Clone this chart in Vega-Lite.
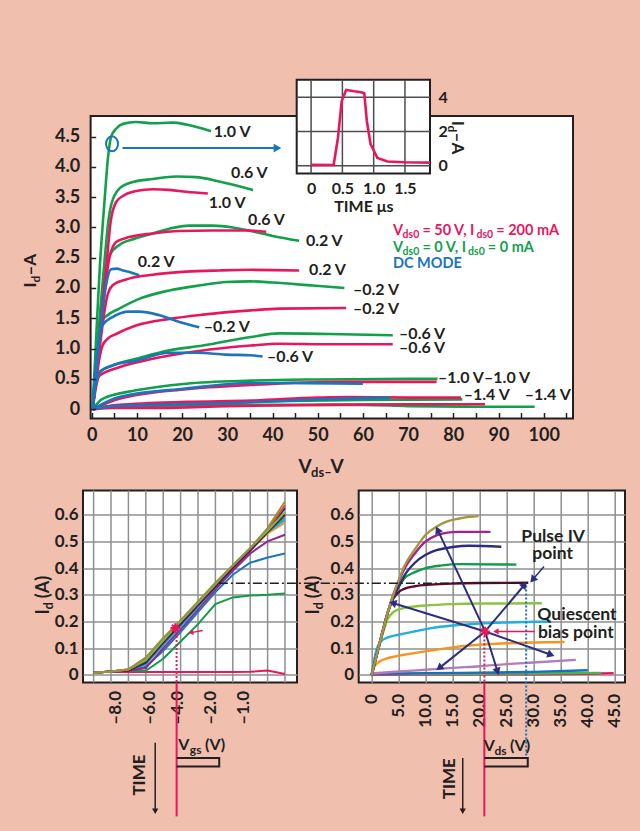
{
"$schema": "https://vega.github.io/schema/vega-lite/v6.json",
"background": "#f0bfae",
"padding": {"left": 21, "top": 78, "right": 15, "bottom": 15},
"bounds": "flush",
"spacing": 71.5,
"resolve": {"scale": {"color": "independent"}},
"config": {
 "font": "Lato",
 "view": {"stroke": null},
 "axis": {"labelFont": "Lato", "labelFontWeight": "bold", "labelColor": "#231f20", "titleFont": "Lato", "titleFontWeight": "bold", "titleColor": "#231f20", "tickColor": "#231f20", "domainColor": "#231f20", "labelOverlap": false, "labelFlush": false},
 "text": {"font": "Lato", "fontWeight": "bold", "color": "#231f20"}
},
"vconcat": [
{
 "width": 490, "height": 302.5,
 "view": {"stroke": null, "fill": null},
 "resolve": {"scale": {"x": "independent", "y": "independent"}},
 "layer": [
 {
  "encoding": {
   "x": {"field": "X", "type": "quantitative", "scale": {"domain": [-1.925, 106.48], "nice": false, "zero": false},
         "axis": {"orient": "bottom", "values": [0,5,10,15,20,25,30,35,40,45,50,55,60,65,70,75,80,85,90,95,100,105], "labelExpr": "datum.value % 10 == 0 ? format(datum.value, 'd') : ''", "domain": false, "grid": false, "tickSize": -6, "tickWidth": 1.5, "labelPadding": 14, "labelFontSize": 18, "title": null, "zindex": 1}},
   "y": {"field": "Y", "type": "quantitative", "scale": {"domain": [-0.155, 4.84], "nice": false, "zero": false},
         "axis": {"orient": "left", "offset": -7.7, "values": [0,0.5,1,1.5,2,2.5,3,3.5,4,4.5], "labelExpr": "datum.value == 0 ? '0' : format(datum.value, '.1f')", "domain": false, "grid": false, "tickSize": -5, "tickWidth": 1.5, "labelPadding": 16, "labelFontSize": 18, "title": null, "zindex": 1}}
  },
  "layer": [
   {"data": {"values": [{"X":-0.24,"X2":106.48,"Y":-0.155,"Y2":4.84}]}, "mark": {"type": "rect", "fill": "white", "stroke": "#231f20", "strokeWidth": 2},
    "encoding": {"x2": {"field": "X2"}, "y2": {"field": "Y2"}}},
   {"data": {"values": [
{"id":"g10","m":"g","X":0.2,"Y":0},{"id":"g10","m":"g","X":1.0,"Y":1.2},{"id":"g10","m":"g","X":1.8,"Y":2.35},{"id":"g10","m":"g","X":2.8,"Y":3.4},{"id":"g10","m":"g","X":3.6,"Y":4.15},{"id":"g10","m":"g","X":4.3,"Y":4.5},{"id":"g10","m":"g","X":5.4,"Y":4.63},{"id":"g10","m":"g","X":6.9,"Y":4.71},{"id":"g10","m":"g","X":9.8,"Y":4.74},{"id":"g10","m":"g","X":13.5,"Y":4.72},{"id":"g10","m":"g","X":17.9,"Y":4.73},{"id":"g10","m":"g","X":20.9,"Y":4.7},{"id":"g10","m":"g","X":26.4,"Y":4.59},
{"id":"g06","m":"g","X":0.2,"Y":0},{"id":"g06","m":"g","X":1.2,"Y":1.0},{"id":"g06","m":"g","X":2.2,"Y":1.9},{"id":"g06","m":"g","X":2.9,"Y":2.5},{"id":"g06","m":"g","X":3.6,"Y":3.05},{"id":"g06","m":"g","X":4.3,"Y":3.37},{"id":"g06","m":"g","X":6.1,"Y":3.64},{"id":"g06","m":"g","X":9.1,"Y":3.75},{"id":"g06","m":"g","X":13.5,"Y":3.8},{"id":"g06","m":"g","X":18.7,"Y":3.84},{"id":"g06","m":"g","X":23.1,"Y":3.83},{"id":"g06","m":"g","X":28.2,"Y":3.76},{"id":"g06","m":"g","X":35.7,"Y":3.62},
{"id":"g02","m":"g","X":0.2,"Y":0},{"id":"g02","m":"g","X":1.3,"Y":1.0},{"id":"g02","m":"g","X":2.4,"Y":1.9},{"id":"g02","m":"g","X":3.3,"Y":2.35},{"id":"g02","m":"g","X":3.9,"Y":2.54},{"id":"g02","m":"g","X":6.1,"Y":2.71},{"id":"g02","m":"g","X":9.8,"Y":2.82},{"id":"g02","m":"g","X":13.5,"Y":2.9},{"id":"g02","m":"g","X":17.2,"Y":2.98},{"id":"g02","m":"g","X":21.6,"Y":3.03},{"id":"g02","m":"g","X":26.8,"Y":3.03},{"id":"g02","m":"g","X":31.2,"Y":3.0},{"id":"g02","m":"g","X":35.2,"Y":2.94},{"id":"g02","m":"g","X":40,"Y":2.86},{"id":"g02","m":"g","X":45.9,"Y":2.78},
{"id":"gm02","m":"g","X":0.2,"Y":0},{"id":"gm02","m":"g","X":1.0,"Y":0.8},{"id":"gm02","m":"g","X":1.7,"Y":1.25},{"id":"gm02","m":"g","X":2.1,"Y":1.44},{"id":"gm02","m":"g","X":3.5,"Y":1.55},{"id":"gm02","m":"g","X":6.1,"Y":1.66},{"id":"gm02","m":"g","X":10.5,"Y":1.82},{"id":"gm02","m":"g","X":17.2,"Y":1.96},{"id":"gm02","m":"g","X":24.6,"Y":2.05},{"id":"gm02","m":"g","X":29.7,"Y":2.1},{"id":"gm02","m":"g","X":35.2,"Y":2.11},{"id":"gm02","m":"g","X":40,"Y":2.09},{"id":"gm02","m":"g","X":48.9,"Y":2.04},{"id":"gm02","m":"g","X":55.9,"Y":2.0},
{"id":"gm06","m":"g","X":0.2,"Y":0},{"id":"gm06","m":"g","X":0.8,"Y":0.35},{"id":"gm06","m":"g","X":1.7,"Y":0.61},{"id":"gm06","m":"g","X":4.6,"Y":0.72},{"id":"gm06","m":"g","X":9.8,"Y":0.83},{"id":"gm06","m":"g","X":17.2,"Y":0.97},{"id":"gm06","m":"g","X":24.6,"Y":1.05},{"id":"gm06","m":"g","X":35.2,"Y":1.19},{"id":"gm06","m":"g","X":41.5,"Y":1.25},{"id":"gm06","m":"g","X":52.6,"Y":1.24},{"id":"gm06","m":"g","X":66.6,"Y":1.22},
{"id":"gm10","m":"g","X":0.2,"Y":0},{"id":"gm10","m":"g","X":2.4,"Y":0.17},{"id":"gm10","m":"g","X":9.8,"Y":0.31},{"id":"gm10","m":"g","X":20.9,"Y":0.42},{"id":"gm10","m":"g","X":35.2,"Y":0.47},{"id":"gm10","m":"g","X":50,"Y":0.49},{"id":"gm10","m":"g","X":70.6,"Y":0.5},{"id":"gm10","m":"g","X":76.5,"Y":0.5},
{"id":"gm14","m":"g","X":0.2,"Y":0},{"id":"gm14","m":"g","X":5,"Y":0.06},{"id":"gm14","m":"g","X":20,"Y":0.1},{"id":"gm14","m":"g","X":40,"Y":0.13},{"id":"gm14","m":"g","X":60,"Y":0.15},{"id":"gm14","m":"g","X":82,"Y":0.16},
{"id":"gm18","m":"g","X":0.2,"Y":0},{"id":"gm18","m":"g","X":5,"Y":0.05},{"id":"gm18","m":"g","X":20,"Y":0.06},{"id":"gm18","m":"g","X":40,"Y":0.07},{"id":"gm18","m":"g","X":60,"Y":0.07},{"id":"gm18","m":"g","X":70,"Y":0.05},{"id":"gm18","m":"g","X":85,"Y":0.04},{"id":"gm18","m":"g","X":98,"Y":0.04},
{"id":"p10","m":"p","X":0.2,"Y":0},{"id":"p10","m":"p","X":1.5,"Y":1.0},{"id":"p10","m":"p","X":2.6,"Y":1.9},{"id":"p10","m":"p","X":3.4,"Y":2.5},{"id":"p10","m":"p","X":4.2,"Y":3.1},{"id":"p10","m":"p","X":5.4,"Y":3.42},{"id":"p10","m":"p","X":6.9,"Y":3.52},{"id":"p10","m":"p","X":9.8,"Y":3.6},{"id":"p10","m":"p","X":13.5,"Y":3.63},{"id":"p10","m":"p","X":17.2,"Y":3.62},{"id":"p10","m":"p","X":20.9,"Y":3.59},{"id":"p10","m":"p","X":25.7,"Y":3.56},
{"id":"p06","m":"p","X":0.2,"Y":0},{"id":"p06","m":"p","X":1.6,"Y":1.0},{"id":"p06","m":"p","X":2.8,"Y":1.9},{"id":"p06","m":"p","X":3.8,"Y":2.45},{"id":"p06","m":"p","X":5.4,"Y":2.76},{"id":"p06","m":"p","X":8.3,"Y":2.84},{"id":"p06","m":"p","X":13.5,"Y":2.9},{"id":"p06","m":"p","X":19.4,"Y":2.94},{"id":"p06","m":"p","X":26.8,"Y":2.95},{"id":"p06","m":"p","X":34.1,"Y":2.95},{"id":"p06","m":"p","X":38.6,"Y":2.93},
{"id":"p02","m":"p","X":0.2,"Y":0},{"id":"p02","m":"p","X":1.6,"Y":0.9},{"id":"p02","m":"p","X":2.6,"Y":1.5},{"id":"p02","m":"p","X":3.4,"Y":1.85},{"id":"p02","m":"p","X":4.6,"Y":2.04},{"id":"p02","m":"p","X":7.6,"Y":2.14},{"id":"p02","m":"p","X":13.5,"Y":2.22},{"id":"p02","m":"p","X":20.9,"Y":2.27},{"id":"p02","m":"p","X":28.2,"Y":2.29},{"id":"p02","m":"p","X":35.2,"Y":2.3},{"id":"p02","m":"p","X":45.9,"Y":2.29},
{"id":"pm02","m":"p","X":0.2,"Y":0},{"id":"pm02","m":"p","X":1.2,"Y":0.6},{"id":"pm02","m":"p","X":2.0,"Y":0.95},{"id":"pm02","m":"p","X":2.4,"Y":1.05},{"id":"pm02","m":"p","X":3.5,"Y":1.16},{"id":"pm02","m":"p","X":5.4,"Y":1.24},{"id":"pm02","m":"p","X":9.8,"Y":1.38},{"id":"pm02","m":"p","X":17.2,"Y":1.49},{"id":"pm02","m":"p","X":24.6,"Y":1.56},{"id":"pm02","m":"p","X":35.2,"Y":1.63},{"id":"pm02","m":"p","X":41.5,"Y":1.66},{"id":"pm02","m":"p","X":56.3,"Y":1.67},
{"id":"pm06","m":"p","X":0.2,"Y":0},{"id":"pm06","m":"p","X":0.8,"Y":0.3},{"id":"pm06","m":"p","X":1.7,"Y":0.55},{"id":"pm06","m":"p","X":6.1,"Y":0.69},{"id":"pm06","m":"p","X":13.5,"Y":0.83},{"id":"pm06","m":"p","X":20.9,"Y":0.93},{"id":"pm06","m":"p","X":28.2,"Y":1.0},{"id":"pm06","m":"p","X":35.2,"Y":1.05},{"id":"pm06","m":"p","X":41.5,"Y":1.08},{"id":"pm06","m":"p","X":52.6,"Y":1.07},{"id":"pm06","m":"p","X":66.6,"Y":1.07},
{"id":"pm10","m":"p","X":0.2,"Y":0},{"id":"pm10","m":"p","X":6.1,"Y":0.17},{"id":"pm10","m":"p","X":20.9,"Y":0.33},{"id":"pm10","m":"p","X":35.2,"Y":0.4},{"id":"pm10","m":"p","X":56.3,"Y":0.45},{"id":"pm10","m":"p","X":76.3,"Y":0.45},
{"id":"pm14","m":"p","X":0.2,"Y":0},{"id":"pm14","m":"p","X":6.1,"Y":0.07},{"id":"pm14","m":"p","X":20.9,"Y":0.12},{"id":"pm14","m":"p","X":35.2,"Y":0.14},{"id":"pm14","m":"p","X":50,"Y":0.19},{"id":"pm14","m":"p","X":56.3,"Y":0.2},{"id":"pm14","m":"p","X":70.6,"Y":0.19},{"id":"pm14","m":"p","X":81.7,"Y":0.19},
{"id":"pm18","m":"p","X":0.2,"Y":0},{"id":"pm18","m":"p","X":5,"Y":0.02},{"id":"pm18","m":"p","X":15,"Y":0.02},{"id":"pm18","m":"p","X":30,"Y":0.05},{"id":"pm18","m":"p","X":50,"Y":0.07},{"id":"pm18","m":"p","X":70,"Y":0.08},{"id":"pm18","m":"p","X":87,"Y":0.08},
{"id":"b02","m":"b","X":0.2,"Y":0},{"id":"b02","m":"b","X":1.5,"Y":1.0},{"id":"b02","m":"b","X":2.5,"Y":1.7},{"id":"b02","m":"b","X":3.3,"Y":2.1},{"id":"b02","m":"b","X":4.3,"Y":2.31},{"id":"b02","m":"b","X":5.5,"Y":2.32},{"id":"b02","m":"b","X":6.9,"Y":2.29},{"id":"b02","m":"b","X":8.5,"Y":2.26},{"id":"b02","m":"b","X":10.5,"Y":2.21},
{"id":"bm02","m":"b","X":0.2,"Y":0},{"id":"bm02","m":"b","X":1.0,"Y":0.8},{"id":"bm02","m":"b","X":1.7,"Y":1.2},{"id":"bm02","m":"b","X":2.3,"Y":1.38},{"id":"bm02","m":"b","X":4.6,"Y":1.52},{"id":"bm02","m":"b","X":8.3,"Y":1.61},{"id":"bm02","m":"b","X":10.5,"Y":1.61},{"id":"bm02","m":"b","X":15,"Y":1.55},{"id":"bm02","m":"b","X":19.4,"Y":1.44},{"id":"bm02","m":"b","X":23.8,"Y":1.35},
{"id":"bm06","m":"b","X":0.2,"Y":0},{"id":"bm06","m":"b","X":0.8,"Y":0.35},{"id":"bm06","m":"b","X":1.7,"Y":0.6},{"id":"bm06","m":"b","X":4.6,"Y":0.72},{"id":"bm06","m":"b","X":9.8,"Y":0.8},{"id":"bm06","m":"b","X":17.2,"Y":0.93},{"id":"bm06","m":"b","X":23.1,"Y":0.93},{"id":"bm06","m":"b","X":29.7,"Y":0.9},{"id":"bm06","m":"b","X":35.2,"Y":0.89},{"id":"bm06","m":"b","X":37.8,"Y":0.87},
{"id":"bm10","m":"b","X":0.2,"Y":0},{"id":"bm10","m":"b","X":6.1,"Y":0.2},{"id":"bm10","m":"b","X":20.9,"Y":0.34},{"id":"bm10","m":"b","X":35.2,"Y":0.43},{"id":"bm10","m":"b","X":45,"Y":0.43},{"id":"bm10","m":"b","X":60,"Y":0.42},
{"id":"bm14","m":"b","X":0.2,"Y":0},{"id":"bm14","m":"b","X":5,"Y":0.05},{"id":"bm14","m":"b","X":20,"Y":0.08},{"id":"bm14","m":"b","X":35,"Y":0.11},{"id":"bm14","m":"b","X":50,"Y":0.16},{"id":"bm14","m":"b","X":66,"Y":0.19}
    ]},
    "mark": {"type": "line", "strokeWidth": 2.6, "interpolate": "monotone"},
    "encoding": {"color": {"field": "m", "type": "nominal", "scale": {"domain": ["g","p","b"], "range": ["#12a04b","#e8175d","#1c75bc"]}, "legend": null}, "detail": {"field": "id"}}},
   {"data": {"values": [
{"X":27.0,"Y":4.58,"t":"1.0 V"},{"X":30.8,"Y":3.9,"t":"0.6 V"},{"X":25.9,"Y":3.41,"t":"1.0 V"},{"X":34.6,"Y":3.13,"t":"0.6 V"},{"X":47.4,"Y":2.78,"t":"0.2 V"},{"X":10.2,"Y":2.43,"t":"0.2 V"},{"X":48.1,"Y":2.29,"t":"0.2 V"},{"X":57.8,"Y":1.96,"t":"–0.2 V"},{"X":57.8,"Y":1.66,"t":"–0.2 V"},{"X":24.8,"Y":1.35,"t":"–0.2 V"},{"X":68.0,"Y":1.235,"t":"–0.6 V"},{"X":68.0,"Y":1.01,"t":"–0.6 V"},{"X":38.8,"Y":0.86,"t":"–0.6 V"},{"X":76.6,"Y":0.52,"t":"–1.0 V"},{"X":86.8,"Y":0.52,"t":"–1.0 V"},{"X":82.3,"Y":0.225,"t":"–1.4 V"},{"X":95.8,"Y":0.225,"t":"–1.4 V"}
    ]},
    "mark": {"type": "text", "align": "left", "baseline": "middle", "fontSize": 16},
    "encoding": {"text": {"field": "t"}}},
   {"data": {"values": [
{"X":66.64,"Y":2.883,"t":"V","m":"p"},{"X":73.16,"Y":2.883,"t":" = 50 V, I","m":"p"},{"X":89.5,"Y":2.883,"t":" = 200 mA","m":"p"},
{"X":66.64,"Y":2.602,"t":"V","m":"g"},{"X":73.16,"Y":2.602,"t":" = 0 V, I","m":"g"},{"X":87.64,"Y":2.602,"t":" = 0 mA","m":"g"},
{"X":66.64,"Y":2.338,"t":"DC MODE","m":"b"}
    ]},
    "mark": {"type": "text", "align": "left", "baseline": "alphabetic", "fontSize": 14.5},
    "encoding": {"text": {"field": "t"}, "color": {"field": "m", "type": "nominal", "scale": {"domain": ["g","p","b"], "range": ["#12a04b","#e8175d","#1c75bc"]}, "legend": null}}},
   {"data": {"values": [
{"X":68.78,"Y":2.883,"t":"ds0","m":"p"},{"X":85.12,"Y":2.883,"t":"ds0","m":"p"},
{"X":68.78,"Y":2.602,"t":"ds0","m":"g"},{"X":83.27,"Y":2.602,"t":"ds0","m":"g"}
    ]},
    "mark": {"type": "text", "align": "left", "baseline": "alphabetic", "fontSize": 10.5, "dy": 3.5},
    "encoding": {"text": {"field": "t"}, "color": {"field": "m", "type": "nominal", "scale": {"domain": ["g","p","b"], "range": ["#12a04b","#e8175d","#1c75bc"]}, "legend": null}}},
   {"data": {"values": [{"X":45.73,"Y":-1.06,"t":"V"},{"X":52.85,"Y":-1.06,"t":"V"}]},
    "mark": {"type": "text", "align": "left", "baseline": "alphabetic", "fontSize": 19},
    "encoding": {"text": {"field": "t"}}},
   {"data": {"values": [{"X":48.54,"Y":-1.06,"t":"ds–"}]},
    "mark": {"type": "text", "align": "left", "baseline": "alphabetic", "fontSize": 13, "dy": 4},
    "encoding": {"text": {"field": "t"}}},
   {"data": {"values": [{"X":-12.35,"Y":2.008,"t":"I"},{"X":-12.35,"Y":2.205,"t":"–A"}]},
    "mark": {"type": "text", "align": "left", "baseline": "alphabetic", "fontSize": 17, "angle": 270},
    "encoding": {"text": {"field": "t"}}},
   {"data": {"values": [{"X":-12.35,"Y":2.089,"t":"d"}]},
    "mark": {"type": "text", "align": "left", "baseline": "alphabetic", "fontSize": 12, "angle": 270, "dy": 4},
    "encoding": {"text": {"field": "t"}}},
   {"data": {"values": [{"X":4.5,"Y":4.38}]},
    "mark": {"type": "point", "shape": "M0,-1A0.8,1 0 1,1 0,1A0.8,1 0 1,1 0,-1Z", "size": 225, "filled": false, "stroke": "#1c75bc", "strokeWidth": 2, "opacity": 1}},
   {"data": {"values": [{"X":6.8,"X2":40.5,"Y":4.31}]},
    "mark": {"type": "rule", "stroke": "#1c75bc", "strokeWidth": 2},
    "encoding": {"x2": {"field": "X2"}}},
   {"data": {"values": [{"X":41.1,"Y":4.31}]},
    "mark": {"type": "point", "shape": "triangle-right", "size": 80, "filled": true, "color": "#1c75bc", "opacity": 1}}
  ]
 },
 {
  "encoding": {
   "x": {"field": "T", "type": "quantitative", "scale": {"domain": [-0.23, 1.9], "range": [213.7, 347], "nice": false, "zero": false},
         "axis": {"orient": "bottom", "offset": -245.1, "values": [0,0.5,1,1.5], "labelExpr": "datum.value == 0 ? '0' : format(datum.value, '.1f')", "domain": false, "ticks": false, "grid": false, "labelPadding": 7, "labelFontSize": 16, "title": "TIME μs", "titleFontSize": 16, "titlePadding": 2, "zindex": 1}},
   "y": {"field": "I", "type": "quantitative", "scale": {"domain": [-0.45, 5.03], "range": [57.4, -36.3], "nice": false, "zero": false},
         "axis": {"orient": "right", "offset": -143, "values": [0,2,4], "domain": false, "ticks": false, "grid": false, "labelPadding": 8, "labelFontSize": 16, "title": null, "zindex": 1}}
  },
  "layer": [
   {"data": {"values": [{"T":-0.23,"T2":1.9,"I":-0.45,"I2":5.03}]}, "mark": {"type": "rect", "fill": "white", "stroke": "#231f20", "strokeWidth": 2},
    "encoding": {"x2": {"field": "T2"}, "y2": {"field": "I2"}}},
   {"data": {"values": [{"T":0,"I":-0.45,"I2":5.03},{"T":0.5,"I":-0.45,"I2":5.03},{"T":1,"I":-0.45,"I2":5.03},{"T":1.5,"I":-0.45,"I2":5.03}]}, "mark": {"type": "rule", "stroke": "#4d4d4d", "strokeWidth": 1.5},
    "encoding": {"y2": {"field": "I2"}}},
   {"data": {"values": [{"T":-0.23,"T2":1.9,"I":0},{"T":-0.23,"T2":1.9,"I":2},{"T":-0.23,"T2":1.9,"I":4}]}, "mark": {"type": "rule", "stroke": "#4d4d4d", "strokeWidth": 1.5},
    "encoding": {"x2": {"field": "T2"}}},
   {"data": {"values": [
{"T":0,"I":0.05},{"T":0.36,"I":0.04},{"T":0.43,"I":1.65},{"T":0.49,"I":3.8},{"T":0.56,"I":4.43},{"T":0.69,"I":4.35},{"T":0.8,"I":4.3},{"T":0.85,"I":4.24},{"T":0.89,"I":2.63},{"T":0.95,"I":1.27},{"T":1.06,"I":0.45},{"T":1.22,"I":0.25},{"T":1.5,"I":0.2},{"T":1.9,"I":0.18}
    ]}, "mark": {"type": "line", "stroke": "#e8175d", "strokeWidth": 2.6}},
   {"data": {"values": [{"T":2.247,"I":2.635,"t":"I"},{"T":2.247,"I":1.938,"t":"–A"}]},
    "mark": {"type": "text", "align": "left", "baseline": "alphabetic", "fontSize": 17, "angle": 90},
    "encoding": {"text": {"field": "t"}}},
   {"data": {"values": [{"T":2.247,"I":2.348,"t":"d"}]},
    "mark": {"type": "text", "align": "left", "baseline": "alphabetic", "fontSize": 12, "angle": 90, "dy": 4},
    "encoding": {"text": {"field": "t"}}}
  ]
 }
 ]
},
{
 "resolve": {"scale": {"color": "independent"}},
 "spacing": 61.7,
 "bounds": "flush",
 "hconcat": [
 {
  "width": 214, "height": 192,
  "view": {"stroke": "#231f20", "strokeWidth": 2, "fill": "white"},
  "encoding": {
   "x": {"field": "X", "type": "quantitative", "scale": {"domain": [-0.61, 11.69], "nice": false, "zero": false},
         "axis": {"values": [1.25,3.24,4.8,6.74,8.62], "labelExpr": "datum.value < 2 ? '–8.0' : datum.value < 4 ? '–6.0' : datum.value < 5.5 ? '–4.0' : datum.value < 7.5 ? '–2.0' : '–1.0'", "labelAngle": 270, "labelFontSize": 17, "labelPadding": 8, "ticks": false, "domain": false, "grid": false, "title": null}},
   "y": {"field": "Y", "type": "quantitative", "scale": {"domain": [-0.029, 0.691], "nice": false, "zero": false},
         "axis": {"values": [0,0.1,0.2,0.3,0.4,0.5,0.6], "labelExpr": "datum.value == 0 ? '0' : format(datum.value, '.1f')", "grid": true, "gridColor": "#8f8f8f", "gridWidth": 1.5, "ticks": false, "domain": false, "labelPadding": 5, "labelFontSize": 17, "title": null}}
  },
  "layer": [
   {"data": {"values": [{"X":0,"Y":-0.029,"Y2":0.691},{"X":1,"Y":-0.029,"Y2":0.691},{"X":2,"Y":-0.029,"Y2":0.691},{"X":3,"Y":-0.029,"Y2":0.691},{"X":4,"Y":-0.029,"Y2":0.691},{"X":5,"Y":-0.029,"Y2":0.691},{"X":6,"Y":-0.029,"Y2":0.691},{"X":7,"Y":-0.029,"Y2":0.691},{"X":8,"Y":-0.029,"Y2":0.691},{"X":9,"Y":-0.029,"Y2":0.691},{"X":10,"Y":-0.029,"Y2":0.691},{"X":11,"Y":-0.029,"Y2":0.691}]},
    "mark": {"type": "rule", "stroke": "#8f8f8f", "strokeWidth": 1.5},
    "encoding": {"y2": {"field": "Y2"}}},
   {"data": {"values": [
{"s":"l","X":0,"Y":0.01},{"s":"l","X":1,"Y":0.01},{"s":"l","X":2,"Y":0.01},{"s":"l","X":3,"Y":0.01},{"s":"l","X":4,"Y":0.01},{"s":"l","X":5,"Y":0.01},{"s":"l","X":6,"Y":0.01},{"s":"l","X":7,"Y":0.01},{"s":"l","X":8,"Y":0.01},{"s":"l","X":9,"Y":0.011},{"s":"l","X":10,"Y":0.016},{"s":"l","X":11,"Y":0.003},
{"s":"k","X":0,"Y":0.008},{"s":"k","X":1,"Y":0.012},{"s":"k","X":2,"Y":0.015},{"s":"k","X":3,"Y":0.015},{"s":"k","X":4,"Y":0.06},{"s":"k","X":5,"Y":0.125},{"s":"k","X":6,"Y":0.19},{"s":"k","X":7,"Y":0.265},{"s":"k","X":8,"Y":0.29},{"s":"k","X":9,"Y":0.297},{"s":"k","X":10,"Y":0.3},{"s":"k","X":11,"Y":0.305},
{"s":"j","X":0,"Y":0.008},{"s":"j","X":1,"Y":0.012},{"s":"j","X":2,"Y":0.015},{"s":"j","X":3,"Y":0.03},{"s":"j","X":4,"Y":0.09},{"s":"j","X":5,"Y":0.16},{"s":"j","X":6,"Y":0.235},{"s":"j","X":7,"Y":0.31},{"s":"j","X":8,"Y":0.375},{"s":"j","X":9,"Y":0.42},{"s":"j","X":10,"Y":0.44},{"s":"j","X":11,"Y":0.455},
{"s":"i","X":0,"Y":0.008},{"s":"i","X":1,"Y":0.012},{"s":"i","X":2,"Y":0.015},{"s":"i","X":3,"Y":0.025},{"s":"i","X":4,"Y":0.1},{"s":"i","X":5,"Y":0.17},{"s":"i","X":6,"Y":0.245},{"s":"i","X":7,"Y":0.32},{"s":"i","X":8,"Y":0.39},{"s":"i","X":9,"Y":0.455},{"s":"i","X":10,"Y":0.5},{"s":"i","X":11,"Y":0.525},
{"s":"h","X":0,"Y":0.008},{"s":"h","X":1,"Y":0.012},{"s":"h","X":2,"Y":0.02},{"s":"h","X":3,"Y":0.055},{"s":"h","X":4,"Y":0.125},{"s":"h","X":5,"Y":0.195},{"s":"h","X":6,"Y":0.265},{"s":"h","X":7,"Y":0.335},{"s":"h","X":8,"Y":0.405},{"s":"h","X":9,"Y":0.47},{"s":"h","X":10,"Y":0.53},{"s":"h","X":11,"Y":0.57},
{"s":"g","X":0,"Y":0.008},{"s":"g","X":1,"Y":0.012},{"s":"g","X":2,"Y":0.018},{"s":"g","X":3,"Y":0.04},{"s":"g","X":4,"Y":0.11},{"s":"g","X":5,"Y":0.18},{"s":"g","X":6,"Y":0.255},{"s":"g","X":7,"Y":0.33},{"s":"g","X":8,"Y":0.4},{"s":"g","X":9,"Y":0.47},{"s":"g","X":10,"Y":0.535},{"s":"g","X":11,"Y":0.58},
{"s":"f","X":0,"Y":0.008},{"s":"f","X":1,"Y":0.012},{"s":"f","X":2,"Y":0.018},{"s":"f","X":3,"Y":0.04},{"s":"f","X":4,"Y":0.115},{"s":"f","X":5,"Y":0.185},{"s":"f","X":6,"Y":0.258},{"s":"f","X":7,"Y":0.33},{"s":"f","X":8,"Y":0.405},{"s":"f","X":9,"Y":0.47},{"s":"f","X":10,"Y":0.535},{"s":"f","X":11,"Y":0.59},
{"s":"d","X":0,"Y":0.008},{"s":"d","X":1,"Y":0.012},{"s":"d","X":2,"Y":0.015},{"s":"d","X":3,"Y":0.045},{"s":"d","X":4,"Y":0.12},{"s":"d","X":5,"Y":0.19},{"s":"d","X":6,"Y":0.26},{"s":"d","X":7,"Y":0.33},{"s":"d","X":8,"Y":0.4},{"s":"d","X":9,"Y":0.465},{"s":"d","X":10,"Y":0.535},{"s":"d","X":11,"Y":0.6},
{"s":"c","X":0,"Y":0.008},{"s":"c","X":1,"Y":0.012},{"s":"c","X":2,"Y":0.02},{"s":"c","X":3,"Y":0.05},{"s":"c","X":4,"Y":0.125},{"s":"c","X":5,"Y":0.195},{"s":"c","X":6,"Y":0.265},{"s":"c","X":7,"Y":0.335},{"s":"c","X":8,"Y":0.405},{"s":"c","X":9,"Y":0.47},{"s":"c","X":10,"Y":0.54},{"s":"c","X":11,"Y":0.625},
{"s":"b","X":0,"Y":0.008},{"s":"b","X":1,"Y":0.012},{"s":"b","X":2,"Y":0.02},{"s":"b","X":3,"Y":0.06},{"s":"b","X":4,"Y":0.13},{"s":"b","X":5,"Y":0.2},{"s":"b","X":6,"Y":0.27},{"s":"b","X":7,"Y":0.34},{"s":"b","X":8,"Y":0.41},{"s":"b","X":9,"Y":0.475},{"s":"b","X":10,"Y":0.545},{"s":"b","X":11,"Y":0.635},
{"s":"e","X":0,"Y":0.008},{"s":"e","X":1,"Y":0.012},{"s":"e","X":2,"Y":0.02},{"s":"e","X":3,"Y":0.055},{"s":"e","X":4,"Y":0.128},{"s":"e","X":5,"Y":0.2},{"s":"e","X":6,"Y":0.27},{"s":"e","X":7,"Y":0.34},{"s":"e","X":8,"Y":0.41},{"s":"e","X":9,"Y":0.475},{"s":"e","X":10,"Y":0.54},{"s":"e","X":11,"Y":0.61},
{"s":"a","X":0,"Y":0.008},{"s":"a","X":1,"Y":0.012},{"s":"a","X":2,"Y":0.02},{"s":"a","X":3,"Y":0.065},{"s":"a","X":4,"Y":0.138},{"s":"a","X":5,"Y":0.205},{"s":"a","X":6,"Y":0.275},{"s":"a","X":7,"Y":0.345},{"s":"a","X":8,"Y":0.41},{"s":"a","X":9,"Y":0.475},{"s":"a","X":10,"Y":0.55},{"s":"a","X":11,"Y":0.65}
    ]},
    "mark": {"type": "line", "strokeWidth": 2},
    "encoding": {"color": {"field": "s", "type": "nominal", "scale": {"domain": ["a","b","c","d","e","f","g","h","i","j","k","l"], "range": ["#9c8f3d","#e4472d","#2b2e7f","#6b1238","#72bf44","#2a9fb0","#27aae1","#f7941d","#92278f","#1f76c0","#0f9d48","#e8175d"]}, "legend": null}}},
   {"data": {"values": [{"X":7.2,"X2":13.1,"Y":0.343}]}, "mark": {"type": "rule", "stroke": "#231f20", "strokeWidth": 1.5, "strokeDash": [9,3,2,3]},
    "encoding": {"x2": {"field": "X2"}}},
   {"data": {"values": [{"X":4.77,"Y":0.175,"Y2":-0.029}]}, "mark": {"type": "rule", "stroke": "#e8175d", "strokeWidth": 2, "strokeDash": [2,2]},
    "encoding": {"y2": {"field": "Y2"}}},
   {"data": {"values": [{"X":4.77,"Y":-0.029,"Y2":-0.531}]}, "mark": {"type": "rule", "stroke": "#e8175d", "strokeWidth": 2},
    "encoding": {"y2": {"field": "Y2"}}},
   {"data": {"values": [{"X":4.77,"Y":-0.3125,"o":1},{"X":7.22,"Y":-0.3125,"o":2},{"X":7.22,"Y":-0.344,"o":3},{"X":4.77,"Y":-0.344,"o":4}]},
    "mark": {"type": "line", "stroke": "#231f20", "strokeWidth": 2},
    "encoding": {"order": {"field": "o"}}},
   {"data": {"values": [{"X":4.69,"Y":0.175}]},
    "mark": {"type": "point", "shape": "M0,-1L0,1M-1,0L1,0M-0.7,-0.7L0.7,0.7M-0.7,0.7L0.7,-0.7", "size": 90, "filled": false, "stroke": "#e8175d", "strokeWidth": 2, "opacity": 1}},
   {"data": {"values": [{"X":5.6,"Y":0.158,"XT":6.27,"YT":0.166}]},
    "mark": {"type": "rule", "stroke": "#e8175d", "strokeWidth": 1.5},
    "encoding": {"x2": {"field": "XT"}, "y2": {"field": "YT"}}},
   {"data": {"values": [{"X":5.6,"Y":0.158,"XT":6.27,"YT":0.166}]},
    "transform": [{"calculate": "atan2((datum.X-datum.XT)*17.4, (datum.Y-datum.YT)*266.7)*180/PI", "as": "ang"}],
    "mark": {"type": "point", "shape": "triangle-up", "size": 30, "filled": true, "color": "#e8175d", "opacity": 1},
    "encoding": {"angle": {"field": "ang", "type": "quantitative", "scale": null}}},
   {"data": {"values": [{"X":3.54,"Y":-0.255,"Y2":-0.515}]}, "mark": {"type": "rule", "stroke": "#231f20", "strokeWidth": 1.5},
    "encoding": {"y2": {"field": "Y2"}}},
   {"data": {"values": [{"X":3.54,"Y":-0.512}]}, "mark": {"type": "point", "shape": "triangle-down", "size": 40, "filled": true, "color": "#231f20", "opacity": 1}},
   {"data": {"values": [{"X":2.93,"Y":-0.376,"t":"TIME"}]},
    "mark": {"type": "text", "align": "center", "baseline": "alphabetic", "fontSize": 17, "angle": 270},
    "encoding": {"text": {"field": "t"}}},
   {"data": {"values": [{"X":4.87,"Y":-0.283,"t":"V"},{"X":6.4,"Y":-0.283,"t":" (V)"}]},
    "mark": {"type": "text", "align": "left", "baseline": "alphabetic", "fontSize": 16},
    "encoding": {"text": {"field": "t"}}},
   {"data": {"values": [{"X":5.53,"Y":-0.283,"t":"gs"}]},
    "mark": {"type": "text", "align": "left", "baseline": "alphabetic", "fontSize": 12, "dy": 4},
    "encoding": {"text": {"field": "t"}}},
   {"data": {"values": [{"X":-2.55,"Y":0.226,"t":"I"},{"X":-2.55,"Y":0.287,"t":" (A)"}]},
    "mark": {"type": "text", "align": "left", "baseline": "alphabetic", "fontSize": 18, "angle": 270},
    "encoding": {"text": {"field": "t"}}},
   {"data": {"values": [{"X":-2.55,"Y":0.245,"t":"d"}]},
    "mark": {"type": "text", "align": "left", "baseline": "alphabetic", "fontSize": 13, "angle": 270, "dy": 4},
    "encoding": {"text": {"field": "t"}}}
  ]
 },
 {
  "width": 266.3, "height": 192,
  "view": {"stroke": "#231f20", "strokeWidth": 2, "fill": "white"},
  "encoding": {
   "x": {"field": "X", "type": "quantitative", "scale": {"domain": [-2.4, 46.9], "nice": false, "zero": false},
         "axis": {"values": [0,5,10,15,20,25,30,35,40,45], "labelExpr": "datum.value == 0 ? '0' : format(datum.value, '.1f')", "labelAngle": 270, "labelFontSize": 17, "labelPadding": 11, "ticks": false, "domain": false, "grid": true, "gridColor": "#8f8f8f", "gridWidth": 1.5, "title": null}},
   "y": {"field": "Y", "type": "quantitative", "scale": {"domain": [-0.029, 0.691], "nice": false, "zero": false},
         "axis": {"values": [0,0.1,0.2,0.3,0.4,0.5,0.6], "labelExpr": "datum.value == 0 ? '0' : format(datum.value, '.1f')", "grid": true, "gridColor": "#8f8f8f", "gridWidth": 1.5, "ticks": false, "domain": false, "labelPadding": 5, "labelFontSize": 17, "title": null}}
  },
  "layer": [
   {"data": {"values": [
{"s":"l","X":0,"Y":0.001},{"s":"l","X":30,"Y":0.002},{"s":"l","X":40,"Y":0.004},{"s":"l","X":44.8,"Y":0.006},
{"s":"k","X":0,"Y":0.004},{"s":"k","X":10,"Y":0.004},{"s":"k","X":20,"Y":0.004},{"s":"k","X":30,"Y":0.005},{"s":"k","X":42.5,"Y":0.007},
{"s":"j","X":0,"Y":0.003},{"s":"j","X":10,"Y":0.006},{"s":"j","X":20,"Y":0.008},{"s":"j","X":30,"Y":0.011},{"s":"j","X":40,"Y":0.017},
{"s":"i","X":0,"Y":0.005},{"s":"i","X":5,"Y":0.012},{"s":"i","X":10,"Y":0.019},{"s":"i","X":15,"Y":0.026},{"s":"i","X":20,"Y":0.032},{"s":"i","X":25,"Y":0.04},{"s":"i","X":30,"Y":0.046},{"s":"i","X":37.8,"Y":0.056},
{"s":"h","X":0,"Y":0},{"s":"h","X":0.5,"Y":0.03},{"s":"h","X":1.5,"Y":0.05},{"s":"h","X":3,"Y":0.062},{"s":"h","X":6,"Y":0.075},{"s":"h","X":9,"Y":0.085},{"s":"h","X":13,"Y":0.097},{"s":"h","X":18,"Y":0.11},{"s":"h","X":25,"Y":0.118},{"s":"h","X":30,"Y":0.121},{"s":"h","X":35.7,"Y":0.123},
{"s":"g","X":0,"Y":0},{"s":"g","X":0.5,"Y":0.06},{"s":"g","X":1,"Y":0.1},{"s":"g","X":1.7,"Y":0.125},{"s":"g","X":3,"Y":0.14},{"s":"g","X":5,"Y":0.15},{"s":"g","X":8,"Y":0.163},{"s":"g","X":11,"Y":0.175},{"s":"g","X":15,"Y":0.185},{"s":"g","X":20,"Y":0.192},{"s":"g","X":25,"Y":0.196},{"s":"g","X":33.2,"Y":0.2},
{"s":"f","X":0,"Y":0},{"s":"f","X":1,"Y":0.075},{"s":"f","X":2,"Y":0.15},{"s":"f","X":3,"Y":0.21},{"s":"f","X":4,"Y":0.235},{"s":"f","X":5,"Y":0.245},{"s":"f","X":7,"Y":0.254},{"s":"f","X":10,"Y":0.26},{"s":"f","X":15,"Y":0.265},{"s":"f","X":20,"Y":0.267},{"s":"f","X":31.5,"Y":0.268},
{"s":"e","X":0,"Y":0},{"s":"e","X":1,"Y":0.08},{"s":"e","X":2,"Y":0.16},{"s":"e","X":3,"Y":0.235},{"s":"e","X":4,"Y":0.285},{"s":"e","X":5,"Y":0.31},{"s":"e","X":6,"Y":0.322},{"s":"e","X":8,"Y":0.332},{"s":"e","X":11,"Y":0.338},{"s":"e","X":15,"Y":0.342},{"s":"e","X":20,"Y":0.344},{"s":"e","X":29,"Y":0.345},
{"s":"d","X":0,"Y":0},{"s":"d","X":1,"Y":0.08},{"s":"d","X":2,"Y":0.16},{"s":"d","X":3,"Y":0.235},{"s":"d","X":4,"Y":0.29},{"s":"d","X":5,"Y":0.33},{"s":"d","X":6,"Y":0.36},{"s":"d","X":8,"Y":0.385},{"s":"d","X":10,"Y":0.4},{"s":"d","X":13,"Y":0.41},{"s":"d","X":16,"Y":0.415},{"s":"d","X":26.8,"Y":0.413},
{"s":"c","X":0,"Y":0},{"s":"c","X":1,"Y":0.08},{"s":"c","X":2,"Y":0.16},{"s":"c","X":3,"Y":0.235},{"s":"c","X":4,"Y":0.29},{"s":"c","X":5,"Y":0.33},{"s":"c","X":6,"Y":0.37},{"s":"c","X":8,"Y":0.42},{"s":"c","X":10,"Y":0.45},{"s":"c","X":12,"Y":0.467},{"s":"c","X":15,"Y":0.479},{"s":"c","X":18,"Y":0.484},{"s":"c","X":24,"Y":0.48},
{"s":"b","X":0,"Y":0},{"s":"b","X":1,"Y":0.08},{"s":"b","X":2,"Y":0.16},{"s":"b","X":3,"Y":0.235},{"s":"b","X":4,"Y":0.3},{"s":"b","X":5,"Y":0.35},{"s":"b","X":6,"Y":0.395},{"s":"b","X":8,"Y":0.455},{"s":"b","X":10,"Y":0.5},{"s":"b","X":12,"Y":0.523},{"s":"b","X":14,"Y":0.533},{"s":"b","X":16,"Y":0.536},{"s":"b","X":22,"Y":0.536},
{"s":"a","X":0,"Y":0},{"s":"a","X":1,"Y":0.08},{"s":"a","X":2,"Y":0.16},{"s":"a","X":3,"Y":0.235},{"s":"a","X":4,"Y":0.3},{"s":"a","X":5,"Y":0.355},{"s":"a","X":6,"Y":0.405},{"s":"a","X":8,"Y":0.47},{"s":"a","X":10,"Y":0.525},{"s":"a","X":12,"Y":0.555},{"s":"a","X":14,"Y":0.575},{"s":"a","X":16,"Y":0.585},{"s":"a","X":18,"Y":0.592},{"s":"a","X":19.8,"Y":0.595}
    ]},
    "mark": {"type": "line", "strokeWidth": 2.4, "interpolate": "monotone"},
    "encoding": {"color": {"field": "s", "type": "nominal", "scale": {"domain": ["a","b","c","d","e","f","g","h","i","j","k","l"], "range": ["#a39541","#a3238e","#2b2e7f","#0f9d48","#5c0b2f","#8cc43f","#1fb1dc","#f7941d","#b17dbb","#1570be","#4cb748","#e8175d"]}, "legend": null}}},
   {"data": {"values": [{"X":-9.4,"X2":28.9,"Y":0.343}]}, "mark": {"type": "rule", "stroke": "#231f20", "strokeWidth": 1.5, "strokeDash": [9,3,2,3]},
    "encoding": {"x2": {"field": "X2"}}},
   {"data": {"values": [{"X":28.6,"Y":0.335,"Y2":-0.3125}]}, "mark": {"type": "rule", "stroke": "#1c75bc", "strokeWidth": 2, "strokeDash": [2,2]},
    "encoding": {"y2": {"field": "Y2"}}},
   {"data": {"values": [{"X":20.86,"Y":0.1625,"Y2":-0.029}]}, "mark": {"type": "rule", "stroke": "#e8175d", "strokeWidth": 2, "strokeDash": [2,2]},
    "encoding": {"y2": {"field": "Y2"}}},
   {"data": {"values": [{"X":20.86,"Y":-0.029,"Y2":-0.531}]}, "mark": {"type": "rule", "stroke": "#e8175d", "strokeWidth": 2},
    "encoding": {"y2": {"field": "Y2"}}},
   {"data": {"values": [{"X":20.86,"Y":-0.3125,"o":1},{"X":28.9,"Y":-0.3125,"o":2},{"X":28.9,"Y":-0.344,"o":3},{"X":20.86,"Y":-0.344,"o":4}]},
    "mark": {"type": "line", "stroke": "#231f20", "strokeWidth": 2},
    "encoding": {"order": {"field": "o"}}},
   {"data": {"values": [{"X":12.2,"Y":0.544,"XT":21.0,"YT":0.1625},{"X":3.9,"Y":0.269,"XT":21.0,"YT":0.1625},{"X":28.3,"Y":0.3375,"XT":21.0,"YT":0.1625},{"X":33.2,"Y":0.075,"XT":21.0,"YT":0.1625},{"X":23.3,"Y":0.0125,"XT":21.0,"YT":0.1625},{"X":12.5,"Y":0.025,"XT":21.0,"YT":0.1625}]},
    "mark": {"type": "rule", "stroke": "#2b2e7f", "strokeWidth": 2},
    "encoding": {"x2": {"field": "XT"}, "y2": {"field": "YT"}}},
   {"data": {"values": [{"X":12.2,"Y":0.544,"XT":21.0,"YT":0.1625},{"X":3.9,"Y":0.269,"XT":21.0,"YT":0.1625},{"X":28.3,"Y":0.3375,"XT":21.0,"YT":0.1625},{"X":33.2,"Y":0.075,"XT":21.0,"YT":0.1625},{"X":23.3,"Y":0.0125,"XT":21.0,"YT":0.1625},{"X":12.5,"Y":0.025,"XT":21.0,"YT":0.1625},{"X":29.8,"Y":0.356,"XT":31.9,"YT":0.406}]},
    "transform": [{"calculate": "atan2((datum.X-datum.XT)*5.4, (datum.Y-datum.YT)*266.7)*180/PI", "as": "ang"}],
    "mark": {"type": "point", "shape": "triangle-up", "size": 70, "filled": true, "color": "#2b2e7f", "opacity": 1},
    "encoding": {"angle": {"field": "ang", "type": "quantitative", "scale": null}}},
   {"data": {"values": [{"X":29.8,"Y":0.356,"XT":31.9,"YT":0.406}]},
    "mark": {"type": "rule", "stroke": "#2b2e7f", "strokeWidth": 1.5},
    "encoding": {"x2": {"field": "XT"}, "y2": {"field": "YT"}}},
   {"data": {"values": [{"X":23.0,"Y":0.1625,"XT":30.1,"YT":0.1625}]},
    "mark": {"type": "rule", "stroke": "#e8175d", "strokeWidth": 1.5},
    "encoding": {"x2": {"field": "XT"}, "y2": {"field": "YT"}}},
   {"data": {"values": [{"X":23.0,"Y":0.1625,"XT":30.1,"YT":0.1625}]},
    "transform": [{"calculate": "atan2((datum.X-datum.XT)*5.4, (datum.Y-datum.YT)*266.7)*180/PI", "as": "ang"}],
    "mark": {"type": "point", "shape": "triangle-up", "size": 40, "filled": true, "color": "#e8175d", "opacity": 1},
    "encoding": {"angle": {"field": "ang", "type": "quantitative", "scale": null}}},
   {"data": {"values": [{"X":21.0,"Y":0.1625}]},
    "mark": {"type": "point", "shape": "M0,-1L0,1M-1,0L1,0M-0.7,-0.7L0.7,0.7M-0.7,0.7L0.7,-0.7", "size": 90, "filled": false, "stroke": "#e8175d", "strokeWidth": 2, "opacity": 1}},
   {"data": {"values": [{"X":33.6,"Y":0.518,"t":"Pulse IV"},{"X":33.5,"Y":0.453,"t":"point"},{"X":38.0,"Y":0.224,"t":"Quiescent"},{"X":37.8,"Y":0.157,"t":"bias point"}]},
    "mark": {"type": "text", "align": "center", "baseline": "middle", "fontSize": 17.5},
    "encoding": {"text": {"field": "t"}}},
   {"data": {"values": [{"X":16.86,"Y":-0.312,"Y2":-0.515}]}, "mark": {"type": "rule", "stroke": "#231f20", "strokeWidth": 1.5},
    "encoding": {"y2": {"field": "Y2"}}},
   {"data": {"values": [{"X":16.86,"Y":-0.512}]}, "mark": {"type": "point", "shape": "triangle-down", "size": 40, "filled": true, "color": "#231f20", "opacity": 1}},
   {"data": {"values": [{"X":15.49,"Y":-0.39,"t":"TIME"}]},
    "mark": {"type": "text", "align": "center", "baseline": "alphabetic", "fontSize": 17, "angle": 270},
    "encoding": {"text": {"field": "t"}}},
   {"data": {"values": [{"X":20.75,"Y":-0.284,"t":"V"},{"X":25.6,"Y":-0.284,"t":" (V)"}]},
    "mark": {"type": "text", "align": "left", "baseline": "alphabetic", "fontSize": 16},
    "encoding": {"text": {"field": "t"}}},
   {"data": {"values": [{"X":22.73,"Y":-0.284,"t":"ds"}]},
    "mark": {"type": "text", "align": "left", "baseline": "alphabetic", "fontSize": 12, "dy": 4},
    "encoding": {"text": {"field": "t"}}},
   {"data": {"values": [{"X":-9.75,"Y":0.226,"t":"I"},{"X":-9.75,"Y":0.287,"t":" (A)"}]},
    "mark": {"type": "text", "align": "left", "baseline": "alphabetic", "fontSize": 18, "angle": 270},
    "encoding": {"text": {"field": "t"}}},
   {"data": {"values": [{"X":-9.75,"Y":0.245,"t":"d"}]},
    "mark": {"type": "text", "align": "left", "baseline": "alphabetic", "fontSize": 13, "angle": 270, "dy": 4},
    "encoding": {"text": {"field": "t"}}}
  ]
 }
 ]
}
]
}
